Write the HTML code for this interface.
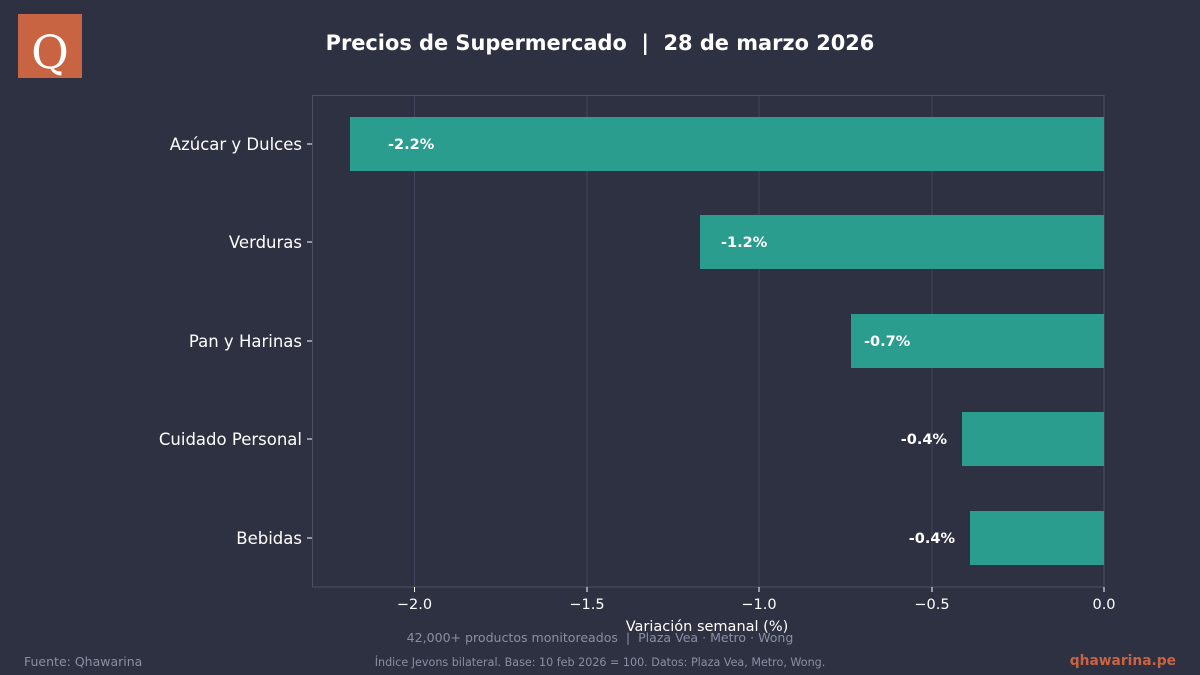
<!DOCTYPE html>
<html><head><meta charset="utf-8"><style>
html,body{margin:0;padding:0;background:#2e3142;}
svg{display:block;font-family:"DejaVu Sans","Liberation Sans",sans-serif;}
text{white-space:pre;}
</style></head><body>
<svg width="1200" height="675" viewBox="0 0 1200 675" xmlns="http://www.w3.org/2000/svg">
<rect width="1200" height="675" fill="#2e3142"/>
<rect x="18" y="14" width="64" height="64" fill="#c96442"/>
<text x="50" y="68" text-anchor="middle" font-family="'DejaVu Serif','Liberation Serif',serif" font-size="46" fill="#ffffff">Q</text>
<text x="600" y="50" text-anchor="middle" font-size="20.9" font-weight="bold" fill="#ffffff">Precios de Supermercado  |  28 de marzo 2026</text>
<g stroke="#41445a" stroke-width="1">
<line x1="414.5" y1="95" x2="414.5" y2="587"/>
<line x1="587" y1="95" x2="587" y2="587"/>
<line x1="759" y1="95" x2="759" y2="587"/>
<line x1="932" y1="95" x2="932" y2="587"/>
</g>
<rect x="312.5" y="95.5" width="791.5" height="491.5" fill="none" stroke="#4c4f63" stroke-width="1"/>
<g fill="#2a9d8f">
<rect x="350" y="117" width="754" height="54"/>
<rect x="700" y="215" width="404" height="54"/>
<rect x="851" y="314" width="253" height="54"/>
<rect x="962" y="412" width="142" height="54"/>
<rect x="970" y="511" width="134" height="54"/>
</g>
<g font-size="14.5" font-weight="bold" fill="#ffffff">
<text x="388" y="149">-2.2%</text>
<text x="721" y="247">-1.2%</text>
<text x="864" y="346">-0.7%</text>
<text x="947" y="444" text-anchor="end">-0.4%</text>
<text x="955" y="543" text-anchor="end">-0.4%</text>
</g>
<g stroke="#ffffff" stroke-width="1">
<line x1="307" y1="144" x2="312" y2="144"/><line x1="307" y1="242" x2="312" y2="242"/>
<line x1="307" y1="341" x2="312" y2="341"/><line x1="307" y1="439" x2="312" y2="439"/>
<line x1="307" y1="538" x2="312" y2="538"/>
<line x1="414.5" y1="587" x2="414.5" y2="592"/><line x1="587" y1="587" x2="587" y2="592"/>
<line x1="759" y1="587" x2="759" y2="592"/><line x1="932" y1="587" x2="932" y2="592"/>
<line x1="1104" y1="587" x2="1104" y2="592"/>
</g>
<g font-size="16.5" fill="#ffffff" text-anchor="end">
<text x="302" y="150">Azúcar y Dulces</text>
<text x="302" y="248">Verduras</text>
<text x="302" y="347">Pan y Harinas</text>
<text x="302" y="445">Cuidado Personal</text>
<text x="302" y="544">Bebidas</text>
</g>
<g font-size="14.5" fill="#ffffff" text-anchor="middle">
<text x="414.5" y="609">−2.0</text>
<text x="587" y="609">−1.5</text>
<text x="759" y="609">−1.0</text>
<text x="932" y="609">−0.5</text>
<text x="1104" y="609">0.0</text>
<text x="707" y="631">Variación semanal (%)</text>
</g>
<text x="600" y="642" text-anchor="middle" font-size="12.55" fill="#8a8fa3">42,000+ productos monitoreados  |  Plaza Vea · Metro · Wong</text>
<text x="600" y="666" text-anchor="middle" font-size="11.15" fill="#8a8fa3">Índice Jevons bilateral. Base: 10 feb 2026 = 100. Datos: Plaza Vea, Metro, Wong.</text>
<text x="24" y="666" font-size="12.5" fill="#8a8fa3">Fuente: Qhawarina</text>
<text x="1176" y="665" text-anchor="end" font-size="13.8" font-weight="bold" fill="#c96442">qhawarina.pe</text>
</svg>
</body></html>
